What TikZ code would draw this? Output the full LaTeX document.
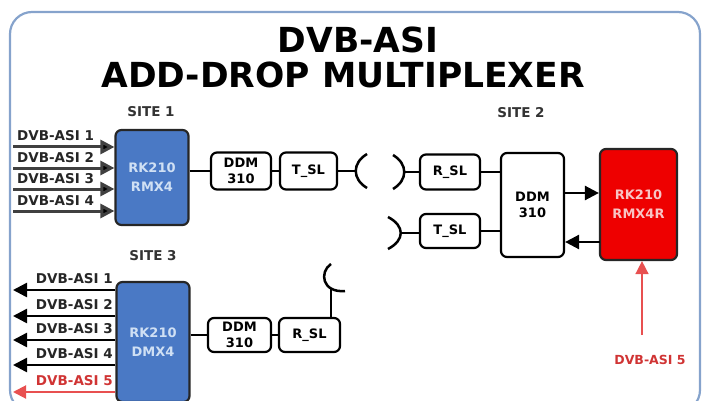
\documentclass[tikz,border=0pt]{standalone}
\usepackage{fontspec}
\setmainfont{DejaVu Sans}
\usetikzlibrary{arrows.meta}
\definecolor{frameblue}{HTML}{86A3CC}
\definecolor{boxblue}{HTML}{4A79C5}
\definecolor{bluetext}{HTML}{D0E0F4}
\definecolor{boxred}{HTML}{EE0000}
\definecolor{redtext}{HTML}{F8C4C4}
\definecolor{lblred}{HTML}{D03434}
\definecolor{arrred}{HTML}{E85050}
\definecolor{ingrey}{HTML}{404040}
\begin{document}
\begin{tikzpicture}[x=1pt,y=-1pt,
  box/.style={draw=black, line width=2.2pt, rounded corners=6pt, fill=white, inner sep=0pt, align=center,
    font=\bfseries\fontsize{13}{16}\selectfont},
  bluebox/.style={draw=black!85, line width=2.2pt, rounded corners=6pt, fill=boxblue, inner sep=0pt, align=center,
    text=bluetext, font=\bfseries\fontsize{13}{19}\selectfont},
  redbox/.style={bluebox, fill=boxred, text=redtext},
  lbl/.style={inner sep=0pt, font=\bfseries\fontsize{13.5}{15}\selectfont, text=black!85},
  sitelbl/.style={inner sep=0pt, font=\bfseries\fontsize{13.5}{15}\selectfont, text=black!80},
  ttl/.style={inner sep=0pt, font=\bfseries\fontsize{34.5}{36}\selectfont},
  conn/.style={line width=2.3pt, black},
  inarr/.style={line width=3pt, ingrey, -{Triangle[length=14pt,width=14pt,fill=black]}},
  outarr/.style={line width=2.5pt, black, -{Triangle[length=14pt,width=14pt]}},
  ant/.style={line width=2.5pt, black},
]
\useasboundingbox (0,0) rectangle (704,401);
\clip (0,0) rectangle (704,401);
\draw[frameblue, line width=2.2pt, rounded corners=22pt] (10,12) rectangle (700,412);

% title
\node[ttl] (t1) at (358,40) {DVB-ASI};
\node[ttl] (t2) at (343,75) {ADD-DROP MULTIPLEXER};

% site 1
\node[sitelbl] (s1) at (151,112) {SITE 1};
\node[bluebox, minimum width=73pt, minimum height=95pt] (rmx) at (152,177.5) {RK210\\RMX4};
\node[box, minimum width=60pt, minimum height=37pt] (ddm1) at (241,171) {DDM\\310};
\node[box, minimum width=57pt, minimum height=37pt] (tsl1) at (308.5,171) {T\_SL};
\coordinate (a1) at (355.5,171);
\draw[ant] (367,154) .. controls (352,163) and (352,179) .. (367,188);
\draw[conn] (rmx.east |- ddm1.west) -- (ddm1.west);
\draw[conn] (ddm1.east) -- (tsl1.west);
\draw[conn] (tsl1.east) -- (a1);
\foreach \i/\y in {1/147,2/168,3/189,4/211}{
  \coordinate (in\i) at (13,\y);
  \draw[inarr] (in\i) -- (in\i -| rmx.west);
  \node[lbl, anchor=base west] (il\i) at (17,\y-6) {DVB-ASI \i};
}

% site 2
\node[sitelbl] (s2) at (521,113) {SITE 2};
\node[box, minimum width=60pt, minimum height=35pt] (rsl2) at (450,172) {R\_SL};
\node[box, minimum width=60pt, minimum height=34pt] (tsl2) at (450,231) {T\_SL};
\node[box, minimum width=63pt, minimum height=104pt] (ddm2) at (532.5,205) {DDM\\310};
\node[redbox, minimum width=77pt, minimum height=111pt] (rmxr) at (638.5,204.5) {RK210\\RMX4R};
\coordinate (a2) at (404.5,172);
\coordinate (a3) at (401,233);
\draw[ant] (393,155) .. controls (408,164) and (408,180) .. (393,189);
\draw[ant] (388,217) .. controls (405,226) and (405,240) .. (388,249);
\draw[conn] (a2) -- (rsl2.west);
\draw[conn] (a3) -- (tsl2.west |- a3);
\draw[conn] (rsl2.east) -- (rsl2.east -| ddm2.west);
\draw[conn] (tsl2.east) -- (tsl2.east -| ddm2.west);
\coordinate (r1) at (563,193);
\coordinate (r2) at (600,242);
\draw[outarr] (r1) -- (r1 -| rmxr.west);
\draw[outarr] (r2) -- (r2 -| ddm2.east);
\node[inner sep=0pt, font=\bfseries\fontsize{12.5}{14}\selectfont, text=lblred] (in5) at (650,360) {DVB-ASI 5};
\coordinate (r5) at (642,335);
\draw[line width=1.6pt, arrred, -{Triangle[length=13pt,width=13pt]}] (r5) -- (r5 |- rmxr.south);

% site 3
\node[sitelbl] (s3) at (153,256) {SITE 3};
\node[bluebox, minimum width=73pt, minimum height=120pt] (dmx) at (153,342) {RK210\\DMX4};
\node[box, minimum width=63pt, minimum height=34pt] (ddm3) at (239.5,335) {DDM\\310};
\node[box, minimum width=61pt, minimum height=34pt] (rsl3) at (309.5,335) {R\_SL};
\draw[conn] (dmx.east |- ddm3.west) -- (ddm3.west);
\draw[conn] (ddm3.east) -- (rsl3.west);
\coordinate (a4) at (331,288);
\draw[ant] (331,264) .. controls (319,272) and (322,293) .. (345,291);
\draw[conn] (a4) -- (a4 |- rsl3.north);
\foreach \i/\y in {1/290,2/316,3/340,4/365}{
  \coordinate (o\i) at (13,\y);
  \draw[outarr] (o\i -| dmx.west) -- (o\i);
  \node[lbl, anchor=base east] (ol\i) at (113,\y-7) {DVB-ASI \i};
}
\coordinate (o5) at (13,392);
\draw[line width=2pt, arrred, -{Triangle[length=13pt,width=13pt]}] (o5 -| dmx.west) -- (o5);
\node[lbl, anchor=base east, text=lblred] (ol5) at (113,385) {DVB-ASI 5};
\end{tikzpicture}
\end{document}
